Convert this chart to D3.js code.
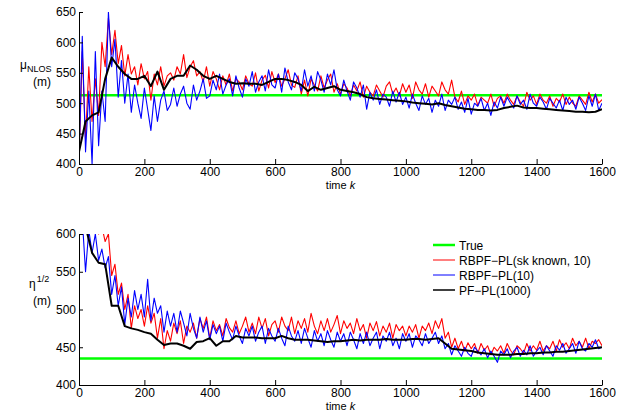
<!DOCTYPE html>
<html>
<head>
<meta charset="utf-8">
<script src="https://cdn.jsdelivr.net/npm/d3@7"></script>
<style>
  body { margin: 0; background: #fff; }
  text { font-family: "Liberation Sans", Arial, sans-serif; fill: #000; }
  .axis text { font-size: 12px; }
  .axis path, .axis line { stroke: #000; }
</style>
</head>
<body>
<script>
// Particle filter estimates of the NLOS parameters.
// Noisy series are sampled every 10 steps, PF-PL every 20 steps.

var noisyStep = 10,
    smoothStep = 20,
    xTicks = [0, 200, 400, 600, 800, 1000, 1200, 1400, 1600],
    muTicks = [400, 450, 500, 550, 600, 650],
    etaTicks = [400, 450, 500, 550, 600],
    seriesNames = ['True', 'RBPF\u2212PL(sk known, 10)', 'RBPF\u2212PL(10)', 'PF\u2212PL(1000)'],
    seriesColors = ['#00ff00', '#ff0000', '#0000ff', '#000000'];

var muTrue = 513,
    etaTrue = 435;

// top panel: mu_NLOS
var muRed = [400,585,440,560,470,540,480,600,560,640,
  580,620,565,595,545,580,548,560,530,565,
  540,552,505,548,530,560,528,545,550,538,
  560,548,580,542,560,570,545,552,535,560,
  528,552,540,522,545,530,548,520,540,535,
  522,545,532,528,550,520,538,546,525,552,
  534,548,528,540,555,530,526,545,515,538,
  512,540,530,520,545,525,538,548,518,532,
  515,532,525,512,530,520,535,510,528,518,
  512,530,520,510,528,535,515,525,512,532,
  518,530,508,535,522,515,532,510,528,520,
  512,535,522,515,538,510,502,520,498,512,
  505,515,496,510,505,500,515,495,508,512,
  500,515,505,498,512,502,495,518,505,512,
  498,515,505,500,512,495,508,502,515,498,
  510,500,495,512,505,498,518,502,515,500,506];

var muBlue = [400,610,420,520,400,585,430,520,470,650,
  560,605,510,570,500,548,485,530,500,475,
  525,490,455,512,470,505,520,488,498,525,
  495,515,528,500,490,530,505,520,540,508,
  512,538,522,548,515,530,540,512,545,525,
  510,540,528,552,518,535,545,520,555,530,
  525,548,518,558,535,522,550,540,520,555,
  528,545,520,552,538,518,548,530,555,522,
  512,538,520,505,535,525,510,530,490,518,
  505,522,498,515,510,495,520,502,518,498,
  510,492,515,500,488,512,498,508,485,505,
  495,515,488,505,498,510,490,502,485,508,
  482,500,495,508,488,500,480,502,492,510,
  495,510,500,492,512,498,505,490,515,500,
  495,510,502,490,508,500,492,505,488,510,
  498,505,490,510,500,488,512,495,515,488,500];

var muBlack = [420,470,480,485,540,575,560,548,540,540,545,528,552,522,540,545,545,562,555,545,
  540,545,540,535,532,533,532,532,530,535,540,540,538,535,530,520,527,522,525,528,
  522,520,518,515,510,508,507,506,505,504,503,501,500,499,498,500,497,495,493,491,
  490,489,489,488,489,492,494,496,493,492,492,491,490,489,488,487,486,486,485,486,490];

// bottom panel: eta^(1/2)
var etaRed = [650,640,630,620,610,615,600,610,590,600,
  545,560,520,535,500,520,475,505,488,500,
  478,505,482,495,462,488,448,472,458,482,
  468,485,455,478,470,482,462,488,475,490,
  462,485,472,480,465,488,476,470,485,468,
  478,490,470,482,468,490,475,488,465,480,
  485,470,490,478,472,490,468,485,475,488,
  470,495,478,468,485,472,488,470,480,492,
  468,485,475,482,468,488,472,480,462,482,
  472,484,465,478,470,482,462,480,472,478,
  465,478,470,480,462,478,472,482,468,485,
  475,488,462,470,450,462,448,458,445,456,
  448,455,442,455,446,452,440,450,445,452,
  442,455,446,440,452,448,442,455,445,452,
  446,458,445,452,448,458,445,460,450,456,
  448,462,452,458,450,462,448,458,455,460,452];

var etaBlue = [650,620,550,605,575,600,565,580,555,570,
  520,545,505,530,480,515,490,525,500,520,
  490,540,485,515,495,505,470,498,478,495,
  470,498,482,465,495,475,462,490,470,485,
  460,480,468,478,458,482,470,460,478,465,
  455,475,465,478,458,470,478,455,475,465,
  458,475,462,452,478,465,458,472,455,475,
  462,450,472,458,468,452,472,460,450,470,
  458,468,452,470,460,448,468,455,470,452,
  462,470,448,465,458,470,452,462,448,468,
  458,468,450,465,460,452,468,455,462,470,
  455,465,448,455,440,452,445,438,450,442,
  438,450,445,440,448,436,445,438,430,445,
  440,448,436,445,450,438,446,440,452,438,
  445,450,440,452,445,438,452,446,455,442,
  448,455,442,458,448,445,455,450,460,448,450];

var etaBlack = [650,610,575,562,560,505,505,478,475,473,470,468,460,453,455,455,452,448,457,458,
  462,452,458,458,465,463,463,463,462,462,462,465,462,460,460,460,459,458,457,458,
  458,459,460,459,460,460,460,461,460,460,460,461,461,460,461,462,455,448,447,446,
  445,443,442,441,440,440,440,441,441,442,442,443,443,444,444,445,446,447,448,449,450];

var width = 639, height = 412;

var svg = d3.select('body').append('svg')
    .attr('width', width)
    .attr('height', height);

var x = d3.scaleLinear().domain([0, 1600]).range([79, 602]);

function toPoints(values, step) {
  return values.map(function (v, i) { return [i * step, v]; });
}

function drawPanel(id, yDomain, yRange, yTicks, trueValue, red, blue, black, labelY) {
  var y = d3.scaleLinear().domain(yDomain).range(yRange);
  var g = svg.append('g');

  g.append('clipPath').attr('id', id)
    .append('rect')
      .attr('x', x(0)).attr('y', yRange[1])
      .attr('width', x(1600) - x(0)).attr('height', yRange[0] - yRange[1]);

  var line = d3.line()
      .x(function (d) { return x(d[0]); })
      .y(function (d) { return y(d[1]); });

  var plot = g.append('g').attr('clip-path', 'url(#' + id + ')');

  plot.append('path')
    .datum([[0, trueValue], [1600, trueValue]])
    .attr('d', line).attr('fill', 'none')
    .attr('stroke', seriesColors[0]).attr('stroke-width', 2.5);

  [[red, noisyStep, 1, 1.1], [blue, noisyStep, 2, 1.1], [black, smoothStep, 3, 2]].forEach(function (s) {
    plot.append('path')
      .datum(toPoints(s[0], s[1]))
      .attr('d', line).attr('fill', 'none')
      .attr('stroke', seriesColors[s[2]])
      .attr('stroke-width', s[3])
      .attr('stroke-linejoin', 'round');
  });

  g.append('g').attr('class', 'axis')
    .attr('transform', 'translate(0,' + yRange[0] + ')')
    .call(d3.axisBottom(x).tickValues(xTicks).tickFormat(d3.format('d'))
      .tickSizeInner(-5).tickSizeOuter(0).tickPadding(3))
    .call(function (a) { a.selectAll('text').attr('font-family', null).attr('font-size', null); });

  g.append('g').attr('class', 'axis')
    .attr('transform', 'translate(' + x(0) + ',0)')
    .call(d3.axisLeft(y).tickValues(yTicks).tickFormat(d3.format('d'))
      .tickSizeInner(-4).tickSizeOuter(0).tickPadding(3))
    .call(function (a) { a.selectAll('text').attr('font-family', null).attr('font-size', null); });

  var lbl = g.append('text')
    .attr('x', (x(0) + x(1600)) / 2)
    .attr('y', labelY)
    .attr('text-anchor', 'middle')
    .style('font-size', '11px');
  lbl.append('tspan').text('time ');
  lbl.append('tspan').attr('font-style', 'italic').text('k');

  return g;
}

var topPanel = drawPanel('clipTop', [400, 650], [164, 12], muTicks, muTrue, muRed, muBlue, muBlack, 189);
var bottomPanel = drawPanel('clipBottom', [400, 600], [385, 234], etaTicks, etaTrue, etaRed, etaBlue, etaBlack, 409.5);

// y labels
var muLabel = topPanel.append('text').attr('x', 20).attr('y', 69).style('font-size', '12px');
muLabel.append('tspan').text('\u03bc');
muLabel.append('tspan').attr('dy', 3).style('font-size', '9px').text('NLOS');
topPanel.append('text').attr('x', 33).attr('y', 86).style('font-size', '12px').text('(m)');

var etaLabel = bottomPanel.append('text').attr('x', 29).attr('y', 288).style('font-size', '12px');
etaLabel.append('tspan').text('\u03b7');
etaLabel.append('tspan').attr('dy', -6).attr('dx', 1).style('font-size', '9px').text('1/2');
bottomPanel.append('text').attr('x', 33).attr('y', 305).style('font-size', '12px').text('(m)');

// legend
var legend = svg.append('g').attr('transform', 'translate(433,245)');
var legendWidths = [2.5, 1, 1, 1.5];
seriesNames.forEach(function (name, i) {
  var row = legend.append('g').attr('transform', 'translate(0,' + (i * 15) + ')');
  row.append('line')
    .attr('x1', 0).attr('x2', 22).attr('y1', 0).attr('y2', 0)
    .attr('stroke', seriesColors[i]).attr('stroke-width', legendWidths[i]);
  row.append('text')
    .attr('x', 26).attr('y', 4.5)
    .style('font-size', '12px')
    .text(name);
});
</script>
</body>
</html>
